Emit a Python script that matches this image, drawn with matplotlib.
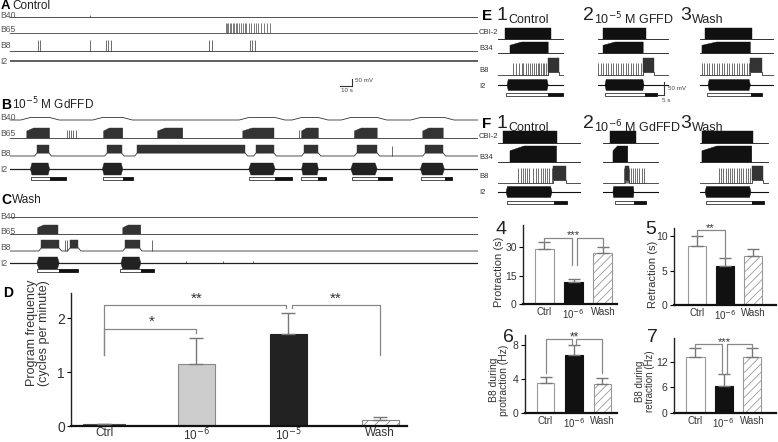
import numpy as np
import matplotlib.pyplot as plt
from matplotlib.patches import Polygon, Rectangle

plt.rcParams['font.family'] = ['Liberation Sans', 'DejaVu Sans']
plt.rcParams['hatch.color'] = '#999999'
plt.rcParams['hatch.linewidth'] = 0.6

W, H = 778, 442

# ---------------- A-C: slow recordings (times in s) ----------------
a_b65_spikes = [180, 181, 182, 183.2, 184.5, 185.5, 187, 188, 189.5, 191, 192.5, 194,
                195.5, 197, 199, 201, 203, 205, 207, 209.5, 212, 214.5, 217]
a_b8_spikes = [23.3, 25, 80, 81.7, 84, 166, 168, 200, 202, 204.5]
a_stim = [67]

b_b65_bursts = [(14, 33), (78, 94), (123, 144), (194, 220), (243, 257), (287, 306), (344, 361)]
b_b65_spikes = [47.5, 49, 51, 52.5, 55, 241]
b_b8_bursts = [(22.5, 32.5), (81, 93), (106, 196), (205, 220), (245, 257), (289, 306), (346, 361)]
b_b8_spikes = [318]
b_i2_bursts = [(17, 33), (77, 94), (199, 221), (243, 257), (284, 306), (342, 362)]
b_phases = [(17.5, 33.3, 46.7), (77.5, 94, 102.5), (199, 221, 235),
            (242.5, 256.7, 263), (285, 306.7, 318), (342.5, 362.5, 368)]

c_b65_bursts = [(23, 40), (94, 109)]
c_b8_bursts = [(26, 41), (50, 57), (96, 108)]
c_b8_spikes = [46, 47.5, 118]
c_i2_bursts = [(22.5, 41), (92.5, 109)]
c_i2_spikes = [147, 177.5, 202.5]
c_phases = [(22.5, 41, 57), (92, 109, 120)]

# ---------------- E/F: evoked programs, one entry per column (s) ----------------
e_extent = [(2, 48.6), (0.7, 50.7), (0, 52)]
e_cbi = [(7.1, 40), (4.3, 35), (3.6, 37)]
e_b34 = [(10.7, 38), (4.3, 33), (1.4, 36)]
e_b8_spikes = [
    [13.1, 15, 17.4, 19.1, 20.2, 22.1, 23.4, 25, 26.6, 27.9, 29.3, 30.5, 31.6, 32.9, 34.1, 35.2, 36.4, 37.6],
    [0.9, 2.6, 4.1, 6.4, 8.1, 9.8, 11.6, 13.6, 15.2, 16.9, 18.8, 20.7, 22.4, 24.1, 26, 27.6, 29.5, 31.2, 33.1],
    [1.2, 2.9, 4.8, 6.6, 8.4, 10, 11.9, 13.6, 15.5, 17.1, 19.1, 20.9, 22.6, 24.3, 26.2, 28.1, 29.8, 31.4, 33.3, 35.2],
]
e_b8_bursts = [(38, 46), (33, 41), (36, 44)]
e_i2 = [(8.6, 38), (5.7, 33.6), (5.7, 36)]
e_phases = [(7.9, 38, 48.6), (5.7, 34, 43), (5, 36.4, 44)]

f_extent = [(2, 60.7), (4.3, 43.6), (0, 48.6)]
f_cbi = [(5.7, 44), (9.3, 27.9), (1.4, 37.9)]
f_b34 = [(10.7, 44), (11.4, 22), (1.4, 37)]
f_b8_spikes = [
    [16.6, 18.4, 19.8, 21.4, 23.1, 24.5, 27.4, 29.3, 30.9, 32.6, 34.1, 35.7, 37.4, 38.8, 40.5],
    [19.3, 20.5, 21.2, 21.9, 22.9, 24.1, 25.5, 27.1, 28.3, 30.2, 31.9, 33.6],
    [13.6, 15, 16.7, 18.4, 19.8, 21.4, 23.1, 24.5, 26.2, 27.9, 29.3, 30.9, 32.6, 34.1, 35.7],
]
f_b8_bursts = [(41.4, 50.7), (20, 23), (37, 45)]
f_i2 = [(7.9, 40.7), (11.4, 26.4), (3.6, 36.4)]
f_phases = [(8.6, 42, 51.4), (12.9, 26.4, 35), (4.3, 37, 46)]

# ---------------- D: program frequency ----------------
d_labels = ['Ctrl', '10$^{-6}$', '10$^{-5}$', 'Wash']
d_mean = [0.035, 1.16, 1.70, 0.11]
d_sem = [0.0, 0.47, 0.39, 0.06]

# ---------------- 4-7 ----------------
s_labels = ['Ctrl', '10$^{-6}$', 'Wash']
prot_mean = [28.9, 11.6, 26.8]
prot_sem = [3.7, 1.6, 3.2]
retr_mean = [8.55, 5.65, 7.1]
retr_sem = [1.5, 1.25, 1.0]
b8p_mean = [3.5, 6.8, 3.4]
b8p_sem = [0.7, 1.2, 0.7]
b8r_mean = [13.1, 6.3, 13.1]
b8r_sem = [2.2, 2.9, 2.2]

fig = plt.figure(figsize=(W / 100, H / 100), dpi=100)


def px_axes(x0, y0, x1, y1):
    return fig.add_axes([x0 / W, 1 - y1 / H, (x1 - x0) / W, (y1 - y0) / H])


def ftext(x, y, s, **kw):
    kw.setdefault('va', 'center')
    fig.text(x / W, 1 - y / H, s, **kw)


def trace(ax, t0, t1, y, bursts=(), h=0, dep=0, rise=0, shape='block',
          spikes=(), sh=0, color='#333333', lw=0.6, fill=True, taper=0.08):
    xs, ys = [t0], [y]
    for s, e in bursts:
        xs += [s - rise, s, e, e + rise]
        ys += [y, y - dep, y - dep, y]
    xs.append(t1)
    ys.append(y)
    ax.plot(xs, ys, color=color, lw=lw)
    if fill:
        for s, e in bursts:
            d = e - s
            b = y - dep
            if shape == 'ramp':
                pts = [(s, b), (s, y - 0.7 * h), (s + 0.3 * d, y - h), (e, y - h), (e, b)]
            elif shape == 'spindle':
                k = taper * d
                pts = [(s, y), (s + k, y - h), (e - k, y - h), (e, y),
                       (e - k, y + h), (s + k, y + h)]
            else:
                pts = [(s, b), (s, y - h), (e, y - h), (e, b)]
            ax.add_patch(Polygon(pts, closed=True, fc=color, ec=color, lw=0.3))
    if len(spikes):
        ax.vlines(spikes, y, y - sh, color=color, lw=0.5)


def phase_bars(ax, y, phases, hgt=3):
    for s, m, e in phases:
        ax.add_patch(Rectangle((s, y - hgt / 2), m - s, hgt, fc='white', ec='#333333', lw=0.6))
        ax.add_patch(Rectangle((m, y - hgt / 2), e - m, hgt, fc='#111111', ec='#111111', lw=0.6))


# ================= A-C =================
ax = px_axes(10, 0, 478, 275)
ax.set_xlim(0, 390)
ax.set_ylim(275, 0)
ax.axis('off')
end = 390

# A
trace(ax, 0, end, 17, spikes=a_stim, sh=2)
trace(ax, 0, end, 33, spikes=a_b65_spikes, sh=10, color='#444444')
trace(ax, 0, end, 51, spikes=a_b8_spikes + a_stim, sh=11)
trace(ax, 0, end, 61, lw=1.1)
ax.plot([285, 285], [79, 86], color='#333333', lw=0.8)
ax.plot([275, 285], [86, 86], color='#333333', lw=0.8)

# B
trace(ax, 0, end, 120, b_i2_bursts, dep=2.5, rise=8, fill=False)
trace(ax, 0, end, 138, b_b65_bursts, h=10, dep=0, shape='ramp', spikes=b_b65_spikes, sh=8)
trace(ax, 0, end, 156, b_b8_bursts, h=11, dep=3, rise=2, spikes=b_b8_spikes, sh=10)
trace(ax, 0, end, 169, b_i2_bursts, h=6, shape='spindle', lw=0.9, color='#222222')
phase_bars(ax, 178, b_phases)

# C
trace(ax, 0, end, 217)
trace(ax, 0, end, 234, c_b65_bursts, h=9, shape='ramp')
trace(ax, 0, end, 251, c_b8_bursts, h=11, dep=3, rise=2, spikes=c_b8_spikes, sh=11)
trace(ax, 0, end, 263, c_i2_bursts, h=6, shape='spindle', spikes=c_i2_spikes, sh=2,
      lw=0.9, color='#222222')
phase_bars(ax, 270, c_phases)

ftext(1, 6, 'A', fontsize=9.5, fontweight='bold')
ftext(12, 6, 'Control', fontsize=8.5, color='#222222')
ftext(1, 105, 'B', fontsize=10, fontweight='bold')
ftext(12, 104, '10$^{-5}$ M GdFFD', fontsize=8.5, color='#222222')
ftext(1, 200, 'C', fontsize=10, fontweight='bold')
ftext(12, 200, 'Wash', fontsize=8.5, color='#222222')
ftext(355, 81, '50 mV', fontsize=4.5, color='#444444')
ftext(341, 90, '10 s', fontsize=4.5, color='#444444')
for yy, lab in [(15, 'B40'), (29, 'B65'), (46, 'B8'), (61, 'I2'),
                (118, 'B40'), (133, 'B65'), (153, 'B8'), (169, 'I2'),
                (216, 'B40'), (232, 'B65'), (247, 'B8'), (263, 'I2')]:
    ftext(0, yy, lab, fontsize=6.2, color='#555555')

# ================= E/F =================
col_x = [495, 597, 700]
scale = 1.4  # px per s
for i, x0 in enumerate(col_x):
    ax = px_axes(x0, 20, x0 + 92, 210)
    ax.set_xlim(0, 92 / scale)
    ax.set_ylim(210, 20)
    ax.axis('off')
    t0, t1 = e_extent[i]
    trace(ax, t0, t1, 39, [e_cbi[i]], h=11, color='#111111')
    trace(ax, t0, t1, 53, [e_b34[i]], h=11, shape='ramp', color='#111111')
    trace(ax, t0, t1, 75, [e_b8_bursts[i]], h=17, dep=3, spikes=e_b8_spikes[i], sh=12)
    trace(ax, t0, t1, 85, [e_i2[i]], h=5.5, shape='spindle', color='#111111', lw=0.8, taper=0.03)
    phase_bars(ax, 94, [e_phases[i]])

    t0, t1 = f_extent[i]
    trace(ax, t0, t1, 143, [f_cbi[i]], h=12, color='#111111')
    trace(ax, t0, t1, 162, [f_b34[i]], h=16, shape='ramp', color='#111111')
    trace(ax, t0, t1, 183, [f_b8_bursts[i]], h=17, dep=3, spikes=f_b8_spikes[i], sh=15)
    trace(ax, t0, t1, 192, [f_i2[i]], h=5.5, shape='spindle', color='#111111', lw=0.8, taper=0.03)
    phase_bars(ax, 202, [f_phases[i]])
    if i == 1:
        ax.plot([47.9, 47.9], [82, 95], color='#333333', lw=0.8)
        ax.plot([42.9, 47.9], [95, 95], color='#333333', lw=0.8)

ftext(668, 88, '50 mV', fontsize=4.5, color='#444444')
ftext(662, 100, '5 s', fontsize=4.5, color='#444444')

for yrow, letter, mid in [(16, 'E', '10$^{-5}$ M GFFD'), (124, 'F', '10$^{-6}$ M GdFFD')]:
    ftext(482, yrow, letter, fontsize=11, fontweight='bold')
    ftext(496, yrow, '1', fontsize=14, color='#222222')
    ftext(508, yrow + 4, 'Control', fontsize=9, color='#222222')
    ftext(583, yrow, '2', fontsize=14, color='#222222')
    ftext(594, yrow + 3, mid, fontsize=9, color='#222222')
    ftext(680, yrow, '3', fontsize=14, color='#222222')
    ftext(692, yrow + 4, 'Wash', fontsize=9, color='#222222')
for yy, lab in [(33, 'CBI-2'), (48, 'B34'), (70, 'B8'), (86, 'I2'),
                (137, 'CBI-2'), (157, 'B34'), (177, 'B8'), (192, 'I2')]:
    ftext(479, yy, lab, fontsize=5.5, color='#333333')


# ================= bar charts =================
def style_axes(ax, fs, xfs):
    for sp in ['top', 'right']:
        ax.spines[sp].set_visible(False)
    ax.spines['bottom'].set_linewidth(1.6)
    ax.spines['bottom'].set_color('#111111')
    ax.spines['left'].set_linewidth(1.0)
    ax.spines['left'].set_color('#222222')
    ax.tick_params(axis='y', direction='out', length=3, width=0.8, labelsize=fs,
                   labelcolor='#333333', pad=1.5)
    ax.tick_params(axis='x', length=0, labelsize=xfs, labelcolor='#333333', pad=2)


def bars(ax, means, sems, widths, colors, edges, hatches, capsize):
    x = np.arange(len(means))
    bc = ax.bar(x, means, width=widths, color=colors, edgecolor=edges, lw=0.8, zorder=2)
    for p, hch in zip(bc, hatches):
        if hch:
            p.set_hatch(hch)
    ax.errorbar(x, means, yerr=[np.zeros(len(sems)), sems], fmt='none', ecolor='#777777',
                elinewidth=1, capsize=capsize, capthick=1, zorder=3)
    return x


def bracket(ax, xl, yl, xr, yr, top):
    ax.plot([xl, xl, xr, xr], [yl, top, top, yr], color='#888888', lw=0.9, zorder=4,
            clip_on=False)


# D
ax = px_axes(71, 293, 407, 426)
bars(ax, d_mean, d_sem, [0.46, 0.4, 0.4, 0.4],
     ['#555555', '#cccccc', '#222222', 'white'],
     ['#555555', '#888888', '#222222', '#888888'], [None, None, None, '///'], 5)
ax.set_xlim(-0.36, 3.29)
ax.set_ylim(0, 2.47)
ax.set_yticks([0, 1, 2])
ax.set_xticks(range(4))
ax.set_xticklabels(d_labels)
style_axes(ax, 10, 8.5)
ax.tick_params(axis='x', pad=0.5)
bracket(ax, 0, 1.31, 1, 1.72, 1.81)
bracket(ax, 0, 1.31, 1.98, 2.19, 2.24)
bracket(ax, 2.04, 2.19, 3.0, 1.31, 2.24)
ax.text(0.52, 1.80, '*', ha='center', va='bottom', fontsize=11, color='#333333')
ax.text(1.01, 2.23, '**', ha='center', va='bottom', fontsize=11, color='#333333')
ax.text(2.51, 2.23, '**', ha='center', va='bottom', fontsize=11, color='#333333')
ftext(3, 293, 'D', fontsize=10, fontweight='bold')
ftext(38, 333, 'Program frequency\n(cycles per minute)', fontsize=9, rotation=90,
      ha='center', color='#333333', linespacing=1.05)

s_colors = ['white', '#111111', 'white']
s_edges = ['#999999', '#111111', '#999999']
s_hatch = [None, None, '////']

# 4
ax = px_axes(523, 225, 617, 304)
bars(ax, prot_mean, prot_sem, 0.65, s_colors, s_edges, s_hatch, 4)
ax.set_xlim(-0.73, 2.48)
ax.set_ylim(0, 41.6)
ax.set_yticks([0, 15, 30])
ax.set_xticks(range(3))
ax.set_xticklabels(s_labels)
style_axes(ax, 7.5, 7)
bracket(ax, 0, 32.6, 0.95, 20.5, 34.7)
bracket(ax, 1.1, 20.5, 2, 30.0, 34.7)
ax.text(1.0, 33.5, '***', ha='center', va='bottom', fontsize=8, color='#333333')
ftext(501, 229, '4', fontsize=14, ha='center', color='#222222')
ftext(499, 272, 'Protraction (s)', fontsize=8, rotation=90, ha='center', color='#333333')

# 5
ax = px_axes(674, 228, 776, 305)
bars(ax, retr_mean, retr_sem, 0.64, s_colors, s_edges, s_hatch, 4)
ax.set_xlim(-0.81, 2.8)
ax.set_ylim(0, 11.2)
ax.set_yticks([0, 5, 10])
ax.set_xticks(range(3))
ax.set_xticklabels(s_labels)
style_axes(ax, 7.5, 7)
bracket(ax, 0, 10.05, 1, 6.9, 10.9)
ax.text(0.46, 10.5, '**', ha='center', va='bottom', fontsize=8, color='#333333')
ftext(651, 229, '5', fontsize=14, ha='center', color='#222222')
ftext(653, 274, 'Retraction (s)', fontsize=8, rotation=90, ha='center', color='#333333')

# 6
ax = px_axes(525, 335, 617, 413)
bars(ax, b8p_mean, b8p_sem, 0.6, s_colors, s_edges, s_hatch, 4)
ax.set_xlim(-0.72, 2.51)
ax.set_ylim(0, 9.2)
ax.set_yticks([0, 4, 8])
ax.set_xticks(range(3))
ax.set_xticklabels(s_labels)
style_axes(ax, 7.5, 7)
bracket(ax, 0, 4.7, 0.94, 8.0, 8.7)
bracket(ax, 1.08, 8.0, 2, 4.7, 8.7)
ax.text(1.0, 8.25, '**', ha='center', va='bottom', fontsize=8.5, color='#333333')
ftext(508, 337, '6', fontsize=14, ha='center', color='#222222')
ftext(499, 380, 'B8 during\nprotraction (Hz)', fontsize=7.5, rotation=90, ha='center',
      color='#333333', linespacing=1.0)

# 7
ax = px_axes(674, 338, 776, 413)
bars(ax, b8r_mean, b8r_sem, 0.64, s_colors, s_edges, s_hatch, 4)
ax.set_xlim(-0.76, 2.85)
ax.set_ylim(0, 17.6)
ax.set_yticks([0, 6, 12])
ax.set_xticks(range(3))
ax.set_xticklabels(s_labels)
style_axes(ax, 7.5, 7)
bracket(ax, 0, 15.3, 0.95, 9.2, 16.2)
bracket(ax, 1.1, 9.2, 2, 15.3, 16.2)
ax.text(1.02, 15.4, '***', ha='center', va='bottom', fontsize=8, color='#333333')
ftext(652, 338, '7', fontsize=14, ha='center', color='#222222')
ftext(645, 381, 'B8 during\nretraction (Hz)', fontsize=7, rotation=90, ha='center',
      color='#333333', linespacing=1.0)

fig.savefig('out.png', dpi=100)
